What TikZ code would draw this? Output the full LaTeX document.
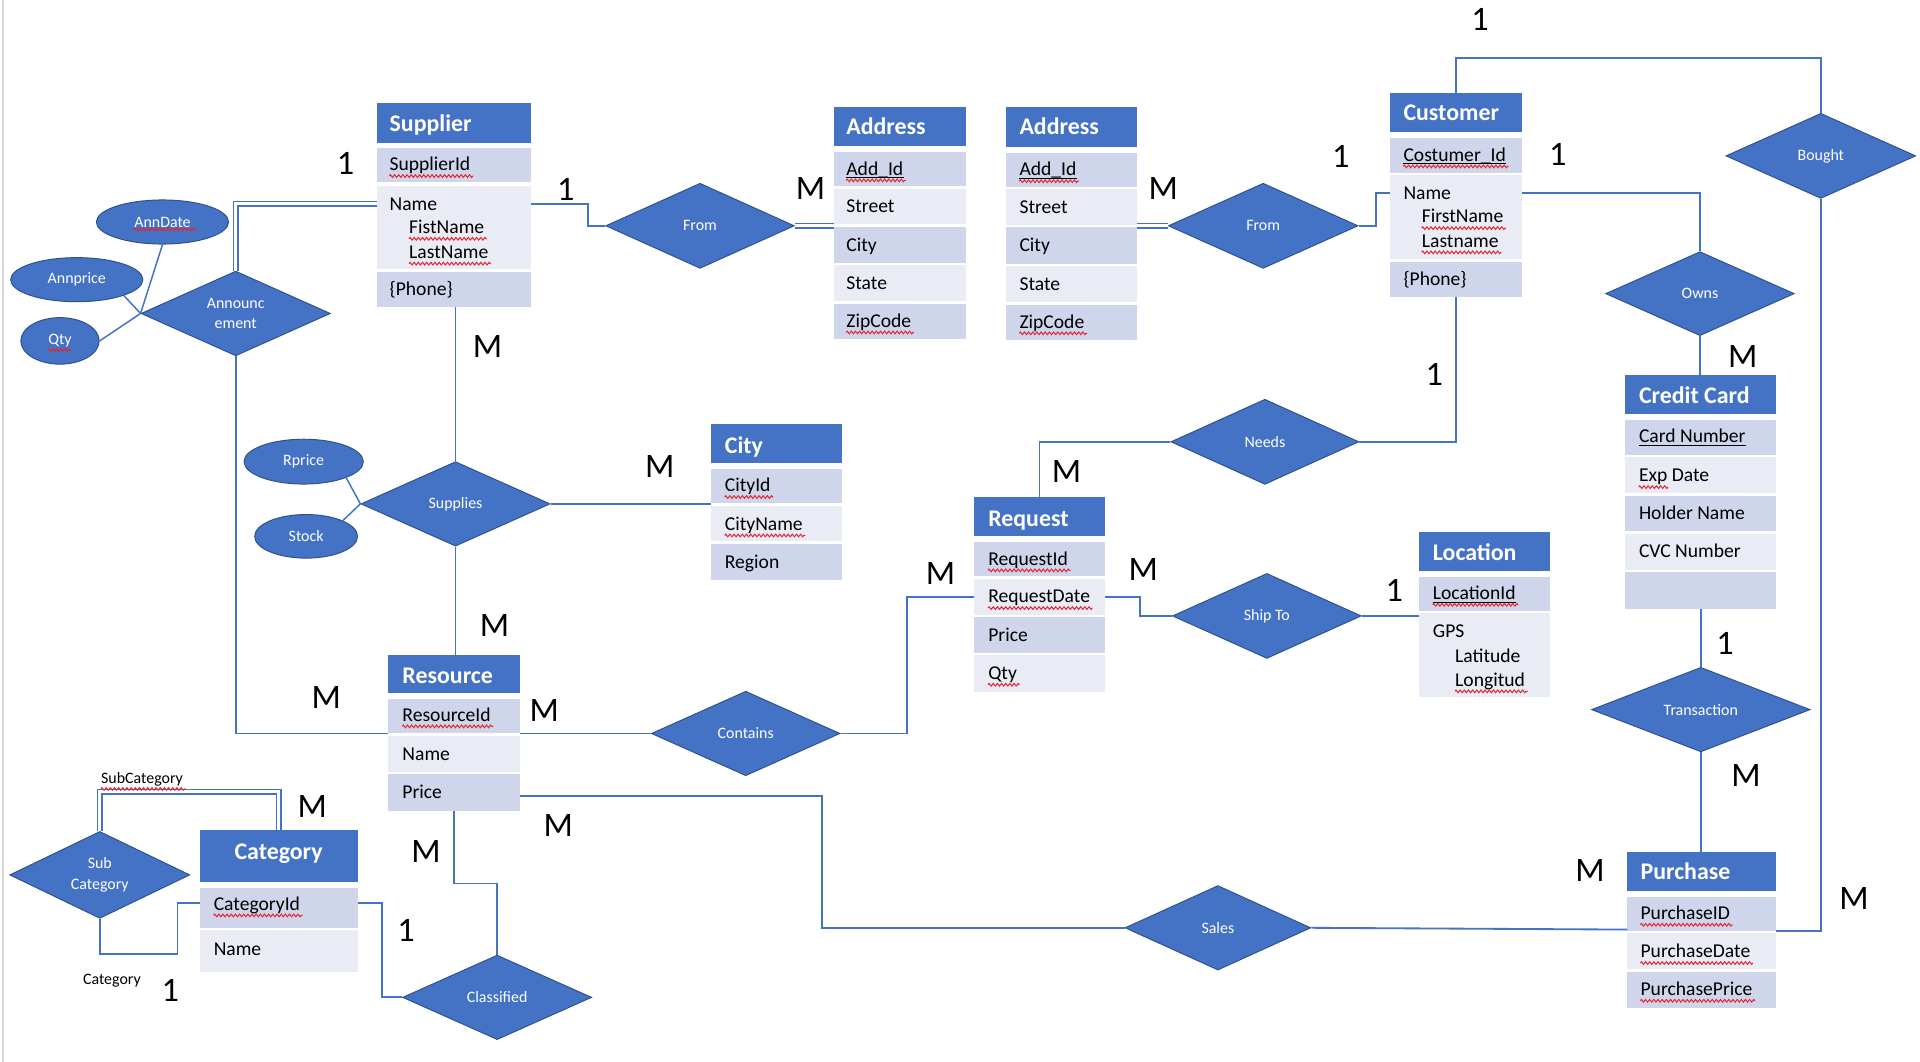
\documentclass[tikz,border=0pt]{standalone}
\usepackage{fontspec}
\setmainfont{Carlito}
\usetikzlibrary{shapes.geometric,decorations.pathmorphing,calc}
\definecolor{hdrblue}{HTML}{4472C4}
\definecolor{rowdark}{HTML}{CFD5EA}
\definecolor{rowlight}{HTML}{E9EBF5}
\definecolor{edgeblue}{HTML}{2F528F}
\definecolor{connblue}{HTML}{4472C4}
\definecolor{spellred}{HTML}{E8232B}
\tikzset{
 hdrbox/.style={fill=hdrblue, draw=none, anchor=north west, inner sep=0pt, outer sep=0pt},
 darkbox/.style={fill=rowdark, draw=none, anchor=north west, inner sep=0pt, outer sep=0pt},
 lightbox/.style={fill=rowlight, draw=none, anchor=north west, inner sep=0pt, outer sep=0pt},
 hdrtext/.style={font=\fontsize{19.5}{22}\selectfont\bfseries, text=white, anchor=base west, inner sep=0pt},
 attr/.style={font=\fontsize{16}{19}\selectfont, text=black, anchor=base west, inner sep=0pt},
 smalltext/.style={font=\fontsize{13}{15}\selectfont, text=black, anchor=base, inner sep=0pt},
 rel/.style={shape=diamond, fill=hdrblue, draw=edgeblue, line width=0.8pt, inner sep=0pt, aspect=2.2, text=white, font=\fontsize{13}{17}\selectfont, align=center},
 attell/.style={shape=ellipse, fill=hdrblue, draw=edgeblue, line width=0.8pt, inner sep=0pt, text=white, font=\fontsize{13}{15}\selectfont},
 conn/.style={draw=connblue, line width=1.5pt},
 thin/.style={draw=connblue, line width=1.2pt},
 dbl/.style={draw=connblue, line width=1.1pt, double=white, double distance=2.6pt},
 card/.style={font=\fontsize{28}{32}\selectfont, text=black, inner sep=0pt},
 spell/.style={draw=spellred, line width=0.8pt, decorate, decoration={zigzag, amplitude=1.1pt, segment length=3.4pt}},
 keyline/.style={draw=black, line width=1pt},
}
\newcommand\ERbox[6]{\node[#1, minimum width=#5pt, minimum height=#6pt] (#2) at (#3,#4) {};}
\newcommand\ERtext[5]{\node[#1] (#2) at (#3,#4) {#5};}
\newcommand\ERspell[1]{\draw[spell] ([yshift=-4.3pt]#1.base west) -- ([yshift=-4.3pt,xshift=2pt]#1.base east);}
\newcommand\ERkey[1]{\draw[keyline] ([yshift=-2.2pt]#1.base west) -- ([yshift=-2.2pt]#1.base east);}
\begin{document}
\begin{tikzpicture}[x=1pt, y=-1pt]
\useasboundingbox (0,0) rectangle (1568,867);
\fill[white] (0,0) rectangle (1568,867);
\draw[black!15, line width=1.5pt] (2.5,0) -- (2.5,867);

% ---------------- Supplier
\ERbox{hdrbox}{sup}{308}{84.5}{126}{32}
\ERbox{darkbox}{supId}{308}{121}{126}{28}
\ERbox{lightbox}{supName}{308}{151.5}{126}{68}
\ERbox{darkbox}{supPhone}{308}{222}{126}{29}
\ERtext{hdrtext}{supT}{318}{107.6}{Supplier}
\ERtext{attr}{supIdT}{318}{139.5}{SupplierId}
\ERtext{attr}{supNameT}{318}{171.5}{Name}
\ERtext{attr}{supFirstT}{334}{190.7}{FistName}
\ERtext{attr}{supLastT}{334}{211}{LastName}
\ERtext{attr}{supPhoneT}{318}{241.3}{\{Phone\}}

% ---------------- Address 1
\ERbox{hdrbox}{a1}{681}{87}{108}{32}
\ERbox{darkbox}{a1Id}{681}{124}{108}{28}
\ERbox{lightbox}{a1Street}{681}{154}{108}{29}
\ERbox{darkbox}{a1City}{681}{185}{108}{29.5}
\ERbox{lightbox}{a1State}{681}{216.5}{108}{29.5}
\ERbox{darkbox}{a1Zip}{681}{248}{108}{29}
\ERtext{hdrtext}{a1T}{691}{109.5}{Address}
\ERtext{attr}{a1IdT}{691}{143}{Add\_Id}
\ERtext{attr}{a1StreetT}{691}{173.8}{Street}
\ERtext{attr}{a1CityT}{691}{205}{City}
\ERtext{attr}{a1StateT}{691}{236.4}{State}
\ERtext{attr}{a1ZipT}{691}{267.2}{ZipCode}

% ---------------- Address 2
\ERbox{hdrbox}{a2}{821.4}{87.7}{107.5}{32}
\ERbox{darkbox}{a2Id}{821.4}{124.7}{107.5}{28}
\ERbox{lightbox}{a2Street}{821.4}{154.7}{107.5}{29}
\ERbox{darkbox}{a2City}{821.4}{185.7}{107.5}{29.5}
\ERbox{lightbox}{a2State}{821.4}{217.2}{107.5}{29.5}
\ERbox{darkbox}{a2Zip}{821.4}{248.7}{107.5}{29}
\ERtext{hdrtext}{a2T}{832.4}{110.2}{Address}
\ERtext{attr}{a2IdT}{832.4}{143.7}{Add\_Id}
\ERtext{attr}{a2StreetT}{832.4}{174.5}{Street}
\ERtext{attr}{a2CityT}{832.4}{205.7}{City}
\ERtext{attr}{a2StateT}{832.4}{237.1}{State}
\ERtext{attr}{a2ZipT}{832.4}{267.9}{ZipCode}

% ---------------- Customer
\ERbox{hdrbox}{cus}{1135}{76.2}{108}{32}
\ERbox{darkbox}{cusId}{1135}{113}{108}{28}
\ERbox{lightbox}{cusName}{1135}{143}{108}{68.5}
\ERbox{darkbox}{cusPhone}{1135}{213.7}{108}{29}
\ERtext{hdrtext}{cusT}{1146}{98.8}{Customer}
\ERtext{attr}{cusIdT}{1146}{131.6}{Costumer\_Id}
\ERtext{attr}{cusNameT}{1146}{163}{Name}
\ERtext{attr}{cusFirstT}{1161}{182}{FirstName}
\ERtext{attr}{cusLastT}{1161}{201.8}{Lastname}
\ERtext{attr}{cusPhoneT}{1146}{233}{\{Phone\}}

% ---------------- Credit Card
\ERbox{hdrbox}{cc}{1327}{306}{123}{32}
\ERbox{darkbox}{ccNum}{1327}{343}{123}{28.5}
\ERbox{lightbox}{ccExp}{1327}{373.5}{123}{29.5}
\ERbox{darkbox}{ccHold}{1327}{405}{123}{29}
\ERbox{lightbox}{ccCvc}{1327}{436}{123}{29.5}
\ERbox{darkbox}{ccE}{1327}{467.5}{123}{29.5}
\ERtext{hdrtext}{ccT}{1338.3}{329.7}{Credit Card}
\ERtext{attr}{ccNumT}{1338.3}{361.6}{Card Number}
\ERtext{attr}{ccExpT}{1338.3}{393.5}{Exp Date}
\ERtext{attr}{ccHoldT}{1338.3}{424.2}{Holder Name}
\ERtext{attr}{ccCvcT}{1338.3}{455.5}{CVC Number}

% ---------------- City
\ERbox{hdrbox}{city}{580.5}{346}{107.5}{32}
\ERbox{darkbox}{cityId}{580.5}{383}{107.5}{28}
\ERbox{lightbox}{cityName}{580.5}{413}{107.5}{29}
\ERbox{darkbox}{cityReg}{580.5}{444}{107.5}{29.7}
\ERtext{hdrtext}{cityT}{591.8}{370.3}{City}
\ERtext{attr}{cityIdT}{591.8}{401.6}{CityId}
\ERtext{attr}{cityNameT}{591.8}{433}{CityName}
\ERtext{attr}{cityRegT}{591.8}{464.5}{Region}

% ---------------- Request
\ERbox{hdrbox}{req}{795.2}{405.6}{107.5}{32}
\ERbox{darkbox}{reqId}{795.2}{443}{107.5}{27.5}
\ERbox{lightbox}{reqDate}{795.2}{472.5}{107.5}{29.7}
\ERbox{darkbox}{reqPrice}{795.2}{504}{107.5}{29}
\ERbox{lightbox}{reqQty}{795.2}{535}{107.5}{30}
\ERtext{hdrtext}{reqT}{806.9}{429.6}{Request}
\ERtext{attr}{reqIdT}{806.9}{461.5}{RequestId}
\ERtext{attr}{reqDateT}{806.9}{492.3}{RequestDate}
\ERtext{attr}{reqPriceT}{806.9}{524.1}{Price}
\ERtext{attr}{reqQtyT}{806.9}{554.9}{Qty}

% ---------------- Location
\ERbox{hdrbox}{loc}{1158.7}{434.2}{107.5}{32}
\ERbox{darkbox}{locId}{1158.7}{471}{107.5}{28}
\ERbox{lightbox}{locGps}{1158.7}{501}{107.5}{68.5}
\ERtext{hdrtext}{locT}{1170}{457.7}{Location}
\ERtext{attr}{locIdT}{1170}{489.6}{LocationId}
\ERtext{attr}{locGpsT}{1170}{520.9}{GPS}
\ERtext{attr}{locLatT}{1188.2}{540.7}{Latitude}
\ERtext{attr}{locLonT}{1188.2}{560.3}{Longitud}

% ---------------- Resource
\ERbox{hdrbox}{res}{317}{535}{107.5}{31}
\ERbox{darkbox}{resId}{317}{571}{107.5}{28}
\ERbox{lightbox}{resName}{317}{601}{107.5}{29.5}
\ERbox{darkbox}{resPrice}{317}{632.4}{107.5}{29.6}
\ERtext{hdrtext}{resT}{328.5}{558.1}{Resource}
\ERtext{attr}{resIdT}{328.5}{588.9}{ResourceId}
\ERtext{attr}{resNameT}{328.5}{621}{Name}
\ERtext{attr}{resPriceT}{328.5}{652}{Price}

% ---------------- Category
\ERbox{hdrbox}{cat}{163}{678}{129}{42}
\ERbox{darkbox}{catId}{163}{725}{129}{32.5}
\ERbox{lightbox}{catName}{163}{759.5}{129}{34.5}
\node[hdrtext, anchor=base] (catT) at (227.5,701.8) {Category};
\ERtext{attr}{catIdT}{174.4}{743.3}{CategoryId}
\ERtext{attr}{catNameT}{174.4}{780}{Name}

% ---------------- Purchase
\ERbox{hdrbox}{pur}{1329}{695.5}{121}{32}
\ERbox{darkbox}{purId}{1329}{732.3}{121}{27.7}
\ERbox{lightbox}{purDate}{1329}{762.2}{121}{29.4}
\ERbox{darkbox}{purPrice}{1329}{793.5}{121}{29.5}
\ERtext{hdrtext}{purT}{1339.6}{718.2}{Purchase}
\ERtext{attr}{purIdT}{1339.6}{750.9}{PurchaseID}
\ERtext{attr}{purDateT}{1339.6}{782.2}{PurchaseDate}
\ERtext{attr}{purPriceT}{1339.6}{813}{PurchasePrice}

% ---------------- relationships
\node[rel, minimum width=154pt, minimum height=69.5pt] (from1) at (571.7,184.4) {From};
\node[rel, minimum width=155pt, minimum height=69.5pt] (from2) at (1031.6,184.4) {From};
\node[rel, minimum width=155pt, minimum height=69.5pt] (bought) at (1487,127.3) {Bought};
\node[rel, minimum width=154pt, minimum height=68.6pt] (owns) at (1388.3,239.8) {Owns};
\node[rel, minimum width=154.6pt, minimum height=69.2pt] (annc) at (192.5,256) {Announc\\ement};
\node[rel, minimum width=154.5pt, minimum height=69pt] (supplies) at (372,411.5) {Supplies};
\node[rel, minimum width=153.5pt, minimum height=69.5pt] (needs) at (1033,360.8) {Needs};
\node[rel, minimum width=154.2pt, minimum height=69.4pt] (shipto) at (1034.6,503) {Ship To};
\node[rel, minimum width=154pt, minimum height=69pt] (contains) at (609,599) {Contains};
\node[rel, minimum width=178.5pt, minimum height=69pt] (trans) at (1389,579.5) {Transaction};
\node[rel, minimum width=147pt, minimum height=71pt] (subcat) at (81.5,714.5) {Sub\\Category};
\node[rel, minimum width=154.4pt, minimum height=69pt] (classified) at (406,814.5) {Classified};
\node[rel, minimum width=151.7pt, minimum height=69pt] (sales) at (994.6,757.7) {Sales};

% ---------------- attribute ellipses
\node[attell, minimum width=108pt, minimum height=36pt] (anndate) at (132.7,181.3) {AnnDate};
\node[attell, minimum width=108pt, minimum height=36pt] (annprice) at (62.7,228.4) {Annprice};
\node[attell, minimum width=64pt, minimum height=38pt] (qty) at (49,278.4) {Qty};
\node[attell, minimum width=97.4pt, minimum height=36.6pt] (rprice) at (248,377) {Rprice};
\node[attell, minimum width=84pt, minimum height=35.6pt] (stock) at (250,438) {Stock};

% ---------------- connectors
\draw[dbl] (supName.west |- supNameT) -| (annc.north);
\draw[conn] (supName.east |- supNameT) -| ([xshift=-14pt]from1.west) -- (from1.west);
\draw[dbl] (from1.east) -- (from1.east -| a1.west);
\draw[dbl] (a2.east |- from2.west) -- (from2.west);
\draw[conn] (from2.east) -- ++(14.5,0) |- (cusName.west |- cusNameT);
\draw[conn] (cusName.east |- cusNameT) -| (owns.north);
\draw[conn] (owns.south) -- (owns.south |- cc.north);
\draw[conn] (cus.north) -- ++(0,-29) -| (bought.north);
\draw[conn] (bought.south) |- ([yshift=-14pt]purId.east);
\draw[conn] (cusPhone.south) |- (needs.east);
\draw[conn] (needs.west) -| (req.north);
\draw[conn] (supplies.north |- supPhone.south) -- (supplies.north);
\draw[conn] (supplies.east) -- (supplies.east -| city.west);
\draw[conn] (supplies.south) -- (supplies.south |- res.north);
\draw[conn] (annc.south) |- ([yshift=-14pt]resId.west);
\draw[thin] (rprice.south east) -- (supplies.west);
\draw[thin] (stock.north east) -- (supplies.west);
\draw[thin] (anndate.south) -- (annc.west);
\draw[thin] (annprice.south east) -- (annc.west);
\draw[thin] (qty.east) -- (annc.west);
\draw[conn] (contains.west -| resId.east) -- (contains.west);
\draw[conn] (contains.east) -- ++(54,0) |- (reqDate.west);
\draw[conn] (reqDate.east) -- ++(28,0) |- (shipto.west);
\draw[conn] (shipto.east) -- (shipto.east -| loc.west);
\draw[conn] (trans.north |- ccE.south) -- (trans.north);
\draw[conn] (trans.south) -- (trans.south |- pur.north);
\draw[conn] ([yshift=-3pt]resPrice.east) -- ++(247,0) |- (sales.west);
\draw[conn] (sales.east) -- ([yshift=-13pt]purId.west);
\draw[conn] (resPrice.south) -- ++(0,59.5) -| (classified.north);
\draw[conn] ([yshift=4pt]catId.east) -- ++(20,0) |- (classified.west);
\draw[dbl] (subcat.north) -- ++(0,-32) -| (cat.north);
\draw[conn] (subcat.south) -- ++(0,28.5) -| ([xshift=-18pt,yshift=4pt]catId.west) -- ([yshift=4pt]catId.west);

% ---------------- small labels
\node[smalltext] (lblSub) at (116,640) {SubCategory};
\node[smalltext] (lblCat) at (91.4,804) {Category};

% ---------------- cardinalities
\node[card] (c1) at (282.3,133.4) {1};
\node[card] (c2) at (462,155) {1};
\node[card] (c3) at (662,153.8) {M};
\node[card] (c4) at (950,153.8) {M};
\node[card] (c5) at (1095,127.4) {1};
\node[card] (c6) at (1272.2,125.8) {1};
\node[card] (c7) at (1208.6,15.8) {1};
\node[card] (c8) at (1423.3,291.3) {M};
\node[card] (c9) at (1171.4,306.2) {1};
\node[card] (c10) at (871,385) {M};
\node[card] (c11) at (398.1,283.1) {M};
\node[card] (c12) at (538.8,381) {M};
\node[card] (c13) at (403.8,511) {M};
\node[card] (c14) at (266.5,569.8) {M};
\node[card] (c15) at (444.5,580) {M};
\node[card] (c16) at (768,468) {M};
\node[card] (c17) at (933.7,465) {M};
\node[card] (c18) at (1138.6,482.6) {1};
\node[card] (c19) at (1408.7,525.4) {1};
\node[card] (c20) at (1425.9,633) {M};
\node[card] (c21) at (1298.5,710.5) {M};
\node[card] (c22) at (1514.2,733.6) {M};
\node[card] (c23) at (255,659) {M};
\node[card] (c24) at (348,695.5) {M};
\node[card] (c25) at (456,674) {M};
\node[card] (c26) at (331.6,760) {1};
\node[card] (c27) at (139,809) {1};

% ---------------- key underlines and spelling marks
\ERkey{a1IdT} \ERkey{a2IdT} \ERkey{cusIdT} \ERkey{ccNumT} \ERkey{locIdT}
\ERspell{supIdT} \ERspell{supFirstT} \ERspell{supLastT}
\ERspell{a1IdT} \ERspell{a1ZipT} \ERspell{a2IdT} \ERspell{a2ZipT}
\ERspell{cusIdT} \ERspell{cusFirstT} \ERspell{cusLastT}
\ERspell{cityIdT} \ERspell{cityNameT}
\ERspell{reqIdT} \ERspell{reqDateT} \ERspell{reqQtyT}
\ERspell{locIdT} \ERspell{locLonT}
\ERspell{resIdT} \ERspell{catIdT}
\ERspell{purIdT} \ERspell{purDateT} \ERspell{purPriceT}
\ERspell{lblSub}
\draw[spell] ([yshift=-4.3pt]ccExpT.base west) -- ++(24,0);
\draw[spell] ([xshift=-23.4pt,yshift=-6pt]anndate.center) -- ++(51,0);
\draw[spell] ([xshift=-10.2pt,yshift=-7.4pt]qty.center) -- ++(19.5,0);
\end{tikzpicture}
\end{document}
